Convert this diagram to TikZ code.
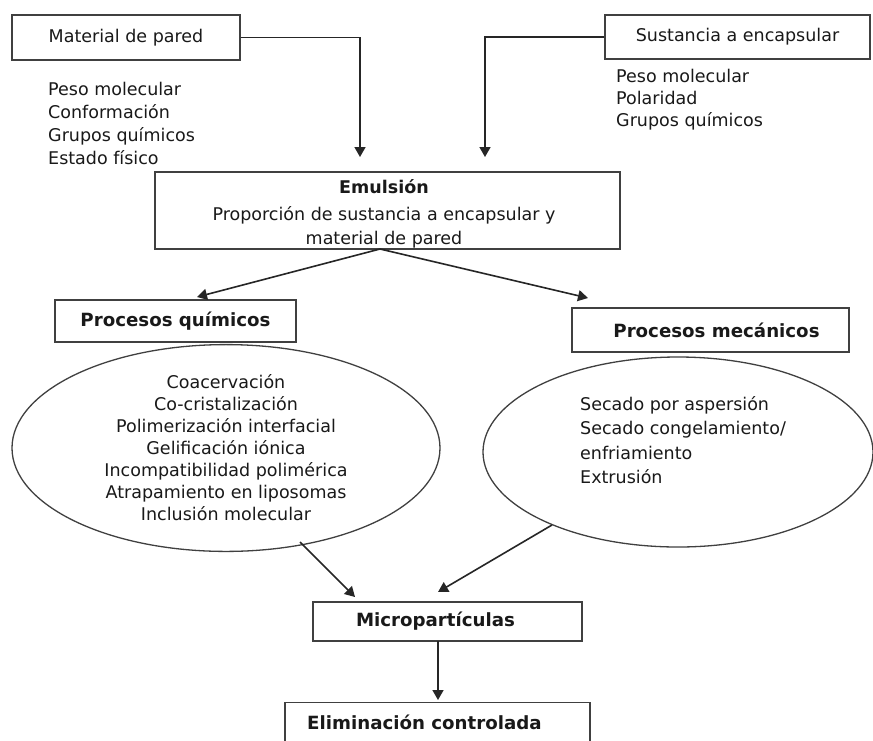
\documentclass[tikz,border=0pt]{standalone}
\usepackage{fontspec}
\setmainfont{DejaVu Sans}
\usetikzlibrary{shapes.geometric,arrows.meta}
\begin{document}
\begin{tikzpicture}[x=1pt,y=-1pt,
  every node/.style={text=black!90},
  box/.style={draw=black!75,line width=1.3pt,rectangle,inner sep=0pt,font=\fontsize{17.5}{22}\selectfont},
  bbox/.style={box,font=\fontsize{18.2}{22}\selectfont\bfseries},
  lst/.style={inner sep=0pt,align=left,font=\fontsize{17.5}{23}\selectfont},
  oval/.style={draw=black!75,line width=1.3pt,ellipse,inner sep=0pt,font=\fontsize{17.5}{22}\selectfont},
  arr/.style={draw=black!85,line width=1.6pt,-{Triangle[length=10pt,width=11pt]}}
]
\useasboundingbox (0,0) rectangle (873,740);
\clip (0,0) rectangle (873,740);
\fill[white] (0,0) rectangle (873,740);

% top boxes
\node[box,minimum width=228,minimum height=45] (mat) at (126,37.5) {Material de pared};
\node[box,minimum width=265,minimum height=44] (sus) at (737.5,37) {Sustancia a encapsular};

\node[lst,anchor=west] (matl) at (48,123) {Peso molecular\\Conformación\\Grupos químicos\\Estado físico};
\node[lst,anchor=west,font=\fontsize{17.5}{22}\selectfont] (susl) at (616,100) {Peso molecular\\Polaridad\\Grupos químicos};

% emulsion
\node[box,minimum width=465,minimum height=77] (emul) at (387.5,210.5) {};
\node[inner sep=0pt,font=\fontsize{17.5}{22}\selectfont\bfseries] (emt) at (384,187) {Emulsión};
\node[inner sep=0pt,align=center,font=\fontsize{17.5}{24}\selectfont] (emd) at (384,227) {Proporción de sustancia a encapsular y\\material de pared};

% process boxes
\node[bbox,minimum width=241,minimum height=42] (quim) at (175.5,321) {Procesos químicos};
\node[bbox,minimum width=277,minimum height=44] (mec) at (710.5,330) {\hspace*{12pt}Procesos mecánicos};

% ellipses
\node[oval,minimum width=428,minimum height=196,align=center] (eq) at (226,448)
 {Coacervación\\Co-cristalización\\Polimerización interfacial\\Gelificación iónica\\Incompatibilidad polimérica\\Atrapamiento en liposomas\\Inclusión molecular};
\node[oval,minimum width=390,minimum height=190] (em) at (678,452) {};
\node[lst,anchor=north west,font=\fontsize{17.5}{24.5}\selectfont] (emtx) at (580,396) {Secado por aspersión\\Secado congelamiento/\\enfriamiento\\Extrusión};

% bottom boxes
\node[bbox,minimum width=269,minimum height=39] (micro) at (447.5,621.5) {Micropartículas\hspace*{24pt}};
\node[draw=black!75,line width=1.3pt,rectangle,minimum width=305,minimum height=60,anchor=north] (elim) at (437.5,702) {};
\node[inner sep=0pt,anchor=west,font=\fontsize{18.2}{22}\selectfont\bfseries] (elimt) at (307,722) {Eliminación controlada};

% connector ends
\coordinate (c1) at (360,157);
\coordinate (c2) at (485,157);
\coordinate (qa) at (197,297);
\coordinate (ma) at (588,298);
\coordinate (s1) at (300,542);
\coordinate (t1) at (355,597);
\coordinate (s2) at (552,525);
\coordinate (t2) at (438,592);
\coordinate (ms) at (438,641);
\coordinate (mt) at (438,700);
\coordinate (es) at (380,249);

\draw[arr] (mat.east) -| (c1);
\draw[arr] (sus.west) -| (c2);
\draw[arr] (es) -- (qa);
\draw[arr] (es) -- (ma);
\draw[arr] (s1) -- (t1);
\draw[arr] (s2) -- (t2);
\draw[arr] (ms) -- (mt);
\end{tikzpicture}
\end{document}
